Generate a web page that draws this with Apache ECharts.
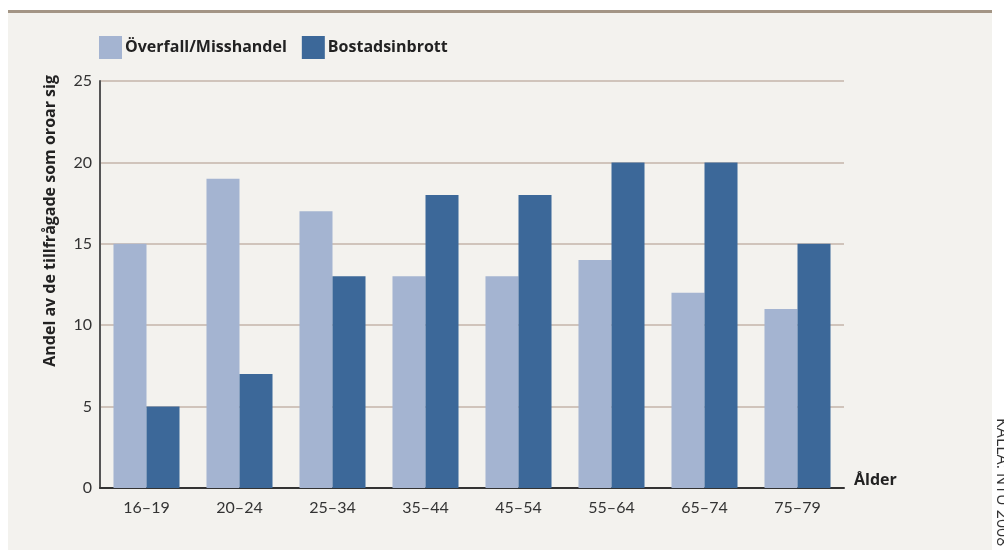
<!DOCTYPE html>
<html>
<head>
<meta charset="utf-8">
<script src="https://cdn.jsdelivr.net/npm/echarts@6/dist/echarts.min.js"></script>
<style>
  html, body { margin: 0; padding: 0; background: #ffffff; }
  #chart { width: 1004px; height: 550px; }
</style>
</head>
<body>
<div id="chart"></div>
<script>
  // data
  var ageGroups = ['16–19', '20–24', '25–34', '35–44', '45–54', '55–64', '65–74', '75–79'];
  var assault = [15, 19, 17, 13, 13, 14, 12, 11];   // Överfall/Misshandel
  var burglary = [5, 7, 13, 18, 18, 20, 20, 15];    // Bostadsinbrott
  var yTicks = [0, 5, 10, 15, 20, 25];

  var font = 'Lato, "Open Sans", sans-serif';
  var boldFont = '"Open Sans", Lato, sans-serif';
  var myChart = echarts.init(document.getElementById('chart'));

  var option = {
    backgroundColor: '#ffffff',
    animation: false,
    graphic: [
      {
        type: 'rect', z: -10, silent: true,
        shape: { x: 8, y: 12, width: 984, height: 538 },
        style: { fill: '#f3f2ee' }
      },
      {
        type: 'rect', z: -5, silent: true,
        shape: { x: 8, y: 10, width: 984, height: 3 },
        style: { fill: '#a39585' }
      },
      {
        type: 'text', silent: true,
        x: 50, y: 75, rotation: Math.PI / 2,
        style: {
          text: 'Andel av de tillfrågade som oroar sig',
          font: 'bold 16px ' + boldFont,
          fill: '#222222',
          align: 'right',
          verticalAlign: 'middle'
        }
      },
      {
        type: 'text', silent: true,
        x: 1002, y: 418, rotation: -Math.PI / 2,
        style: {
          text: 'KÄLLA: NTU 2008',
          font: '16px ' + boldFont,
          fill: '#333333',
          align: 'left',
          verticalAlign: 'middle'
        }
      }
    ],
    legend: {
      left: 99,
      top: 36,
      padding: 0,
      itemWidth: 23,
      itemHeight: 23,
      itemGap: 15,
      icon: 'rect',
      textStyle: { fontFamily: boldFont, fontWeight: 'bold', fontSize: 16, color: '#222222', padding: [4, 0, 0, -2] },
      data: ['Överfall/Misshandel', 'Bostadsinbrott']
    },
    grid: {
      left: 100,
      right: 160,
      top: 81,
      bottom: 62,
      containLabel: false
    },
    xAxis: {
      type: 'category',
      data: ageGroups,
      name: 'Ålder',
      nameLocation: 'end',
      nameGap: 10,
      nameTextStyle: { fontFamily: boldFont, fontWeight: 'bold', fontSize: 16, color: '#222222', verticalAlign: 'bottom' },
      axisLine: { lineStyle: { color: '#333333', width: 2 } },
      axisTick: { show: false },
      axisLabel: { fontFamily: font, fontSize: 16, color: '#333333', margin: 12 }
    },
    yAxis: {
      type: 'value',
      min: yTicks[0],
      max: yTicks[yTicks.length - 1],
      interval: 5,
      axisLine: { show: true, lineStyle: { color: '#555555', width: 2 } },
      axisTick: { show: false },
      axisLabel: { fontFamily: font, fontSize: 16, color: '#333333', margin: 8 },
      splitLine: { show: true, lineStyle: { color: '#c4b4aa', width: 1.5 } }
    },
    series: [
      {
        name: 'Överfall/Misshandel',
        type: 'bar',
        barGap: '0%',
        barCategoryGap: '29%',
        itemStyle: { color: '#a4b4d1' },
        data: assault
      },
      {
        name: 'Bostadsinbrott',
        type: 'bar',
        itemStyle: { color: '#3c6899' },
        data: burglary
      }
    ]
  };

  myChart.setOption(option);
</script>
</body>
</html>
